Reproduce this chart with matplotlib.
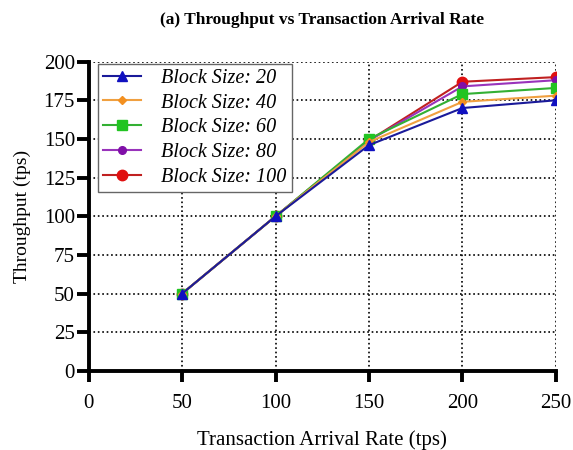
import matplotlib.pyplot as plt
import numpy as np

plt.rcParams['font.family'] = ['Liberation Serif', 'DejaVu Serif']

# Data
arrival_rate = [50, 100, 150, 200, 250]
block_sizes = [20, 40, 60, 80, 100]
throughput = {
    20: [50, 100, 146, 170, 175],
    40: [50, 100, 148, 174, 178],
    60: [50, 100, 150, 179, 183],
    80: [50, 100, 149, 184, 188],
    100: [50, 100, 149, 187, 190],
}

colors = ['#1010C0', '#F39020', '#22C422', '#8010A8', '#E01010']
line_colors = ['#1A1A9A', '#F0A040', '#33B033', '#9933BB', '#C02020']
markers = ['^', 'D', 's', 'o', 'o']
msizes = [7, 4.5, 6.5, 5.5, 7.5]

fig = plt.figure(figsize=(5.73, 4.5), dpi=100)
ax = fig.add_axes([0.155, 0.176, 0.815, 0.687])

for i, bs in enumerate(block_sizes):
    ax.plot(arrival_rate, throughput[bs], color=line_colors[i], linewidth=1.5,
            marker=markers[i], markersize=msizes[i], markerfacecolor=colors[i],
            markeredgecolor=colors[i], label='Block Size: %d' % bs, zorder=10 - i)

ax.set_xlim(0, 250)
ax.set_ylim(0, 200)
ax.set_xticks(np.arange(0, 251, 50))
ax.set_yticks(np.arange(0, 201, 25))
ax.grid(True, linestyle=':', color='black', linewidth=1.2)

for side in ['top', 'right']:
    ax.spines[side].set_visible(False)
for side in ['left', 'bottom']:
    ax.spines[side].set_linewidth(2.8)

ax.tick_params(axis='y', direction='out', length=9, width=2.8, labelsize=15, pad=1)
ax.tick_params(axis='x', direction='out', length=8, width=2.8, labelsize=15, pad=9)

ax.set_xlabel('Transaction Arrival Rate (tps)', fontsize=15, labelpad=12)
ax.set_ylabel('Throughput (tps)', fontsize=14, labelpad=9)
ax.set_title('(a) Throughput vs Transaction Arrival Rate', fontsize=12.5,
             fontweight='bold', pad=27)

leg = ax.legend(loc='upper left', bbox_to_anchor=(0.015, 1.0), fancybox=False,
                framealpha=1, edgecolor='#666666', prop={'style': 'italic', 'size': 14.5},
                handlelength=1.9, borderpad=0.25, labelspacing=0.28, handletextpad=1.0,
                borderaxespad=0.1)
leg.get_frame().set_linewidth(1.0)

fig.savefig('out.png', dpi=100)
